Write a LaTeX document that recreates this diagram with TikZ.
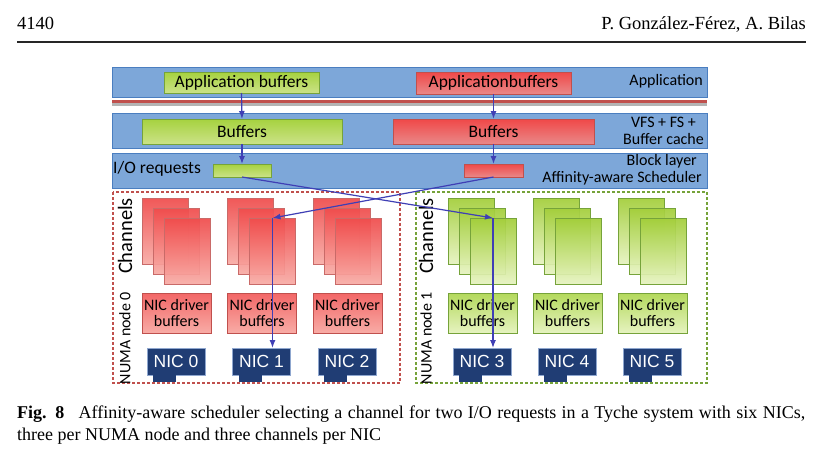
\documentclass[tikz,border=0pt]{standalone}
\usepackage{fontspec}
\setmainfont{Liberation Serif}
\newfontfamily\calibri{Carlito}
\newfontfamily\arialfont{Liberation Sans}
\usepackage{xcolor}
\definecolor{band-fill}{HTML}{7DA7D9}
\definecolor{band-line}{HTML}{4A7EC0}
\definecolor{green-top}{HTML}{A6D23F}
\definecolor{green-bottom}{HTML}{CBE287}
\definecolor{green-line}{HTML}{76A33A}
\definecolor{red-top}{HTML}{F04848}
\definecolor{red-bottom}{HTML}{E98888}
\definecolor{red-line}{HTML}{C0504D}
\definecolor{chan-red-top}{HTML}{F04C4C}
\definecolor{chan-red-bottom}{HTML}{F8ACA6}
\definecolor{chan-green-top}{HTML}{A3CE3A}
\definecolor{chan-green-bottom}{HTML}{E6F3C0}
\definecolor{nic-fill}{HTML}{203D74}
\definecolor{nic-line}{HTML}{8FA7CF}
\definecolor{req-arrow}{HTML}{3F3FB5}
\definecolor{sep-grey}{HTML}{B4B4B4}
\usetikzlibrary{arrows.meta}

\tikzset{
    band/.style={draw=band-line, line width=0.9pt, fill=band-fill, inner sep=0pt, outer sep=0pt, anchor=north west},
    greenbox/.style={draw=green-line, line width=0.8pt, top color=green-top, bottom color=green-bottom, inner sep=0pt, outer sep=0pt, anchor=north west, font=\calibri\fontsize{17.5}{18}\selectfont},
    redbox/.style={draw=red-line, line width=0.8pt, top color=red-top, bottom color=red-bottom, inner sep=0pt, outer sep=0pt, anchor=north west, font=\calibri\fontsize{17.5}{18}\selectfont},
    chanred/.style={draw=red-line!85, line width=0.8pt, top color=chan-red-top, bottom color=chan-red-bottom, fill opacity=0.93, minimum width=46pt, minimum height=66pt, inner sep=0pt, outer sep=0pt, anchor=north west},
    changreen/.style={draw=green-line, line width=0.8pt, top color=chan-green-top, bottom color=chan-green-bottom, fill opacity=0.93, minimum width=46pt, minimum height=66pt, inner sep=0pt, outer sep=0pt, anchor=north west},
    drvred/.style={redbox, top color=chan-red-top!85!white, bottom color=chan-red-bottom, minimum width=69pt, minimum height=40pt, align=center, font=\calibri\fontsize{16}{16}\selectfont},
    drvgreen/.style={greenbox, top color=green-top!85!white, bottom color=chan-green-bottom, minimum width=69pt, minimum height=40pt, align=center, font=\calibri\fontsize{16}{16}\selectfont},
    nicbox/.style={draw=nic-line, line width=0.6pt, fill=nic-fill, text=white, minimum width=58pt, minimum height=27pt, inner sep=0pt, outer sep=0pt, anchor=north west, font=\arialfont\fontsize{17.5}{18}\selectfont},
    nictab/.style={fill=nic-fill, minimum width=23pt, minimum height=7pt, inner sep=0pt, outer sep=0pt, anchor=north west},
    layerlabel/.style={anchor=east, inner sep=0pt, font=\calibri\fontsize{16}{17}\selectfont},
    sidelabel/.style={rotate=90, inner sep=0pt, font=\calibri\fontsize{16}{17}\selectfont},
    reqarrow/.style={draw=req-arrow, line width=1.2pt, -{Latex[length=8pt,width=6pt]}},
}

\begin{document}
\begin{tikzpicture}[x=1pt, y=-1pt]

    % Page
    \useasboundingbox (0,0) rectangle (833,458);
    \fill[white] (0,0) rectangle (833,458);
    \node[anchor=base west, inner sep=0pt, font=\fontsize{18.5}{20}\selectfont] (pagenum) at (17,29) {4140};
    \node[anchor=base east, inner sep=0pt, font=\fontsize{18.5}{20}\selectfont] (authors) at (806,29) {P. González-Férez, A. Bilas};
    \draw[line width=2pt, black!85] (17,42) -- (806,42);

    % Layers
    \node[band, minimum width=595pt, minimum height=30pt] (applayer) at (112,67) {};
    \node[band, minimum width=595pt, minimum height=35pt] (vfslayer) at (112,113) {};
    \node[band, minimum width=595pt, minimum height=35pt] (blocklayer) at (112,153) {};
    \fill[red-line] (112,100) rectangle (707,103);
    \fill[sep-grey] (112,103) rectangle (707,106);

    \node[layerlabel] (applabel) at (703,81) {Application};
    \node[layerlabel, align=center] (vfslabel) at (704,131) {VFS + FS +\\Buffer cache};
    \node[layerlabel, align=right] (blocklabel) at (702,170) {Block layer\hspace*{5pt}\\Affinity-aware Scheduler};
    \node[anchor=west, inner sep=0pt, font=\calibri\fontsize{17.5}{18}\selectfont] (iolabel) at (113,169) {I/O requests};

    % Buffers
    \node[greenbox, minimum width=155pt, minimum height=21pt] (appG) at (164,72) {Application buffers};
    \node[redbox, minimum width=155pt, minimum height=22pt] (appR) at (416,72) {Applicationbuffers};
    \node[greenbox, minimum width=200pt, minimum height=25pt] (bufG) at (142,119) {Buffers};
    \node[redbox, minimum width=201pt, minimum height=25pt] (bufR) at (393,119) {Buffers};
    \node[greenbox, minimum width=58pt, minimum height=13pt] (ioG) at (213,164) {};
    \node[redbox, minimum width=59pt, minimum height=13pt] (ioR) at (464,164) {};

    % NUMA nodes
    \draw[red-line, line width=1.1pt, dash pattern=on 3pt off 2pt] (113,192) rectangle (400,383);
    \draw[green-line, line width=1.1pt, dash pattern=on 3pt off 2pt] (416,192) rectangle (707,383);
    \node[sidelabel, font=\calibri\fontsize{20.5}{21}\selectfont] (chan0) at (125,236) {Channels};
    \node[sidelabel] (numa0) at (125,338) {NUMA node 0};
    \node[sidelabel, font=\calibri\fontsize{20.5}{21}\selectfont] (chan1) at (426,236) {Channels};
    \node[sidelabel] (numa1) at (426,338) {NUMA node 1};

    % NUMA node 0: channels, driver buffers, NICs
    \foreach \n/\x in {0/142, 1/227.5, 2/313} {
        \foreach \k/\dx/\dy in {a/0/0, b/11/10, c/22/20}
            \node[chanred] (ch\n\k) at (\x+\dx, 198+\dy) {};
        \node[drvred] (drv\n) at (\x, 293) {NIC driver\\buffers};
        \node[nicbox] (nic\n) at (\x+5, 348) {NIC \n};
        \node[nictab] (tab\n) at (\x+11, 374.5) {};
    }

    % NUMA node 1: channels, driver buffers, NICs
    \foreach \n/\x in {3/448, 4/533, 5/618} {
        \foreach \k/\dx/\dy in {a/0/0, b/11/10, c/22/20}
            \node[changreen] (ch\n\k) at (\x+\dx, 198+\dy) {};
        \node[drvgreen] (drv\n) at (\x, 293) {NIC driver\\buffers};
        \node[nicbox] (nic\n) at (\x+5, 348) {NIC \n};
        \node[nictab] (tab\n) at (\x+11, 374.5) {};
    }

    % Requests
    \draw[reqarrow] (appG.south) -- (bufG.north);
    \draw[reqarrow] (bufG.south) -- (ioG.north);
    \draw[reqarrow] (appR.south) -- (bufR.north);
    \draw[reqarrow] (bufR.south) -- (ioR.north);
    \draw[reqarrow] (ioG.south) -- (ch3c.north);
    \draw[reqarrow] (ch3c.north) -- (ch3c.north |- nic3.north);
    \draw[reqarrow] (ioR.south) -- (ch1c.north);
    \draw[reqarrow] (ch1c.north) -- (ch1c.north |- nic1.north);

    % Caption
    \node[anchor=north west, text width=788pt, align=justify, inner sep=0pt, font=\fontsize{18}{22}\selectfont] (caption) at (17,406)
        {\textbf{Fig. 8}\hspace{0.8em}Affinity-aware scheduler selecting a channel for two I/O requests in a Tyche system with six NICs,\linebreak three per NUMA node and three channels per NIC};

\end{tikzpicture}
\end{document}
